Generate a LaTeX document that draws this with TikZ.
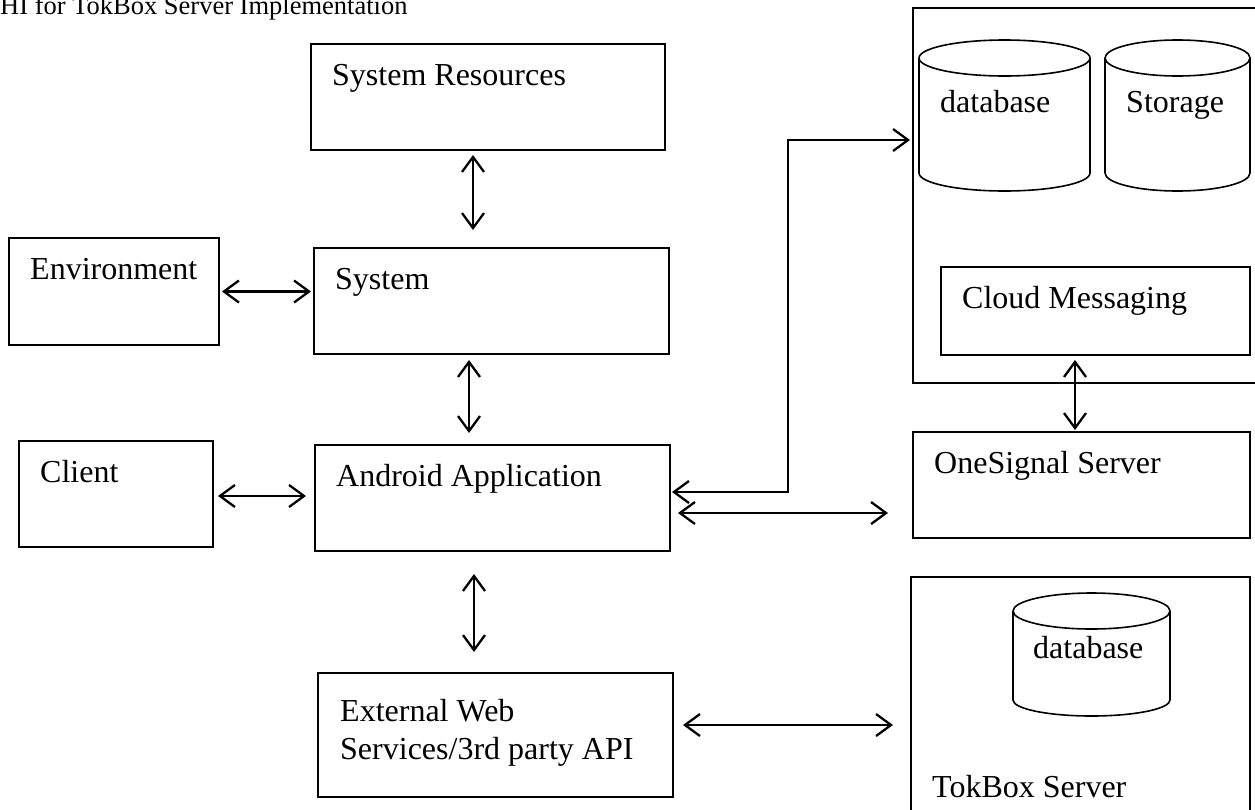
\documentclass[tikz,border=0pt]{standalone}
\usepackage{fontspec}
\setmainfont{Liberation Serif}
\usetikzlibrary{arrows.meta}

\begin{document}
\begin{tikzpicture}[x=1pt,y=1pt,
  every node/.style={font=\fontsize{32}{38}\selectfont},
  box/.style={draw,line width=2pt,inner sep=0pt,outer sep=0pt},
  lbl/.style={anchor=base west,inner sep=0pt,xshift=21pt,yshift=-41pt},
  txt/.style={anchor=base west,inner sep=0pt},
  dbl/.style={line width=2.3pt,{Straight Barb[length=15pt,width=22pt]}-{Straight Barb[length=15pt,width=22pt]}},
  cyl/.style={line width=1.6pt}]
\useasboundingbox (0,0) rectangle (1255,-809);
% Heading
\node[txt,font=\fontsize{26.5}{30}\selectfont] (title) at (0,-14) {HI for TokBox Server Implementation};
% Left side
\node[box,minimum width=354pt,minimum height=106pt,label={[lbl]north west:System Resources}] (res) at (488,-97) {};
\node[box,minimum width=355pt,minimum height=106pt,label={[lbl]north west:System}] (sys) at (491.5,-301) {};
\node[box,minimum width=210pt,minimum height=107pt,label={[lbl]north west:Environment}] (env) at (114,-291.5) {};
\node[box,minimum width=194pt,minimum height=106pt,label={[lbl]north west:Client}] (client) at (116,-494) {};
\node[box,minimum width=355pt,minimum height=106pt,label={[lbl]north west:Android Application}] (app) at (492.5,-498) {};
\node[box,minimum width=355pt,minimum height=124pt] (ext) at (495.5,-735) {};
\node[txt] (extA) at (340,-721) {External Web};
\node[txt] (extB) at (340,-759) {Services/3rd party API};
% Cloud side
\node[box,minimum width=347pt,minimum height=375pt] (cloud) at (1086.5,-195.5) {};
\draw[cyl] (919,-58) -- (919,-173) arc[start angle=180,end angle=360,x radius=85.5,y radius=18] -- (1090,-58);
\draw[cyl] (1004.5,-58) ellipse[x radius=85.5,y radius=18];
\node[txt] (db) at (940,-112) {database};
\draw[cyl] (1105,-58) -- (1105,-173) arc[start angle=180,end angle=360,x radius=72.5,y radius=18] -- (1250,-58);
\draw[cyl] (1177.5,-58) ellipse[x radius=72.5,y radius=18];
\node[txt] (store) at (1126,-112) {Storage};
\node[box,minimum width=309pt,minimum height=88pt,label={[lbl]north west:Cloud Messaging}] (msg) at (1095.5,-311) {};
\node[box,minimum width=337pt,minimum height=106pt,label={[lbl]north west:OneSignal Server}] (signal) at (1081.5,-485) {};
% TokBox
\node[box,minimum width=339pt,minimum height=238pt] (tok) at (1080.5,-696) {};
\draw[cyl] (1013,-611) -- (1013,-700) arc[start angle=180,end angle=360,x radius=78.5,y radius=16] -- (1170,-611);
\draw[cyl] (1091.5,-611) ellipse[x radius=78.5,y radius=18];
\node[txt] (tokdb) at (1033,-658) {database};
\node[txt] (tokname) at (932,-797) {TokBox Server};
% Links
\draw[dbl,shorten <=5pt,shorten >=18pt] ([xshift=-15pt]res.south) -- ([xshift=-18.5pt]sys.north);
\draw[dbl,shorten <=6pt,shorten >=12pt] ([xshift=-22.5pt]sys.south) -- ([xshift=-23.5pt]app.north);
\draw[dbl,shorten <=23pt,shorten >=21pt] ([xshift=-18.5pt]app.south) -- ([xshift=-21.5pt]ext.north);
\draw[dbl,shorten <=3pt,shorten >=3pt] (env.east) -- (env.east -| sys.west);
\draw[dbl,shorten <=5pt,shorten >=9pt] ([yshift=-2pt]client.east) -- ([yshift=-2pt]client.east -| app.west);
\coordinate (bend) at (788,-140);
\draw[dbl,shorten <=2pt,shorten >=3pt] ([yshift=6pt]app.east) -| (bend) -- (bend -| cloud.west);
\draw[dbl,shorten <=8pt,shorten >=25pt] ([yshift=-15pt]app.east) -- ([yshift=-15pt]app.east -| signal.west);
\draw[dbl,shorten <=5pt,shorten >=2pt] ([xshift=-20.5pt]msg.south) -- ([xshift=-6.5pt]signal.north);
\draw[dbl,shorten <=10pt,shorten >=18pt] ([yshift=10pt]ext.east) -- ([yshift=10pt]ext.east -| tok.west);
\end{tikzpicture}
\end{document}
